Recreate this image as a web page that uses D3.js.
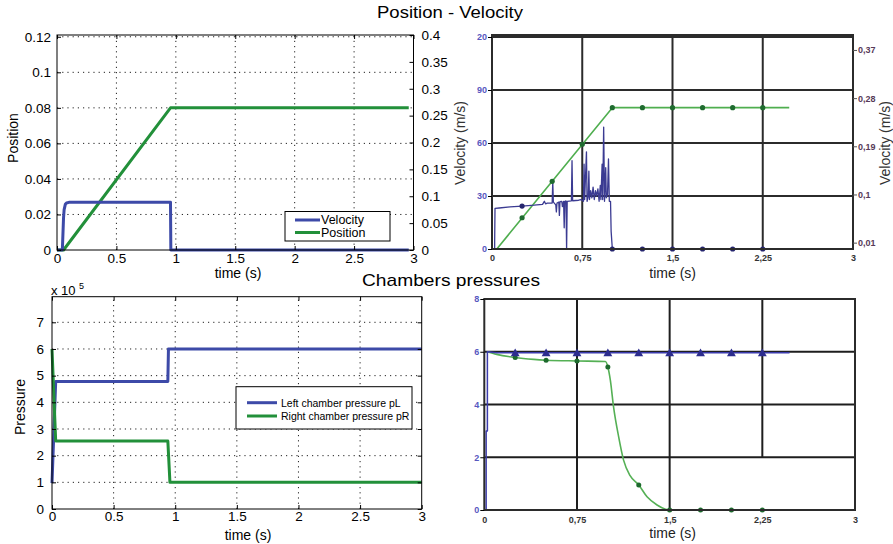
<!DOCTYPE html>
<html><head><meta charset="utf-8">
<script src="https://cdn.jsdelivr.net/npm/d3@7"></script>
<style>
body{margin:0;background:#fff;}
svg{display:block;font-family:"Liberation Sans",Arial,Helvetica,sans-serif;}
</style></head><body>
<svg id="chart" width="893" height="544"></svg>
<script>
// ---------- Simulated position / velocity (top left) ----------
const simVelTime = [0, 0.045, 0.05, 0.055, 0.06, 0.07, 0.08, 0.1, 0.955, 0.958, 2.96];
const simVelocity = [0, 0, 0.03, 0.06, 0.075, 0.085, 0.0875, 0.0887, 0.0887, 0, 0];   // m/s (right axis)
const simPosTime = [0, 0.055, 0.955, 2.96];
const simPosition = [0, 0, 0.08, 0.08];                                             // m (left axis)
const simTimeTicks = [0, 0.5, 1, 1.5, 2, 2.5, 3];
const simPosTicks = [0, 0.02, 0.04, 0.06, 0.08, 0.1, 0.12];
const simVelTicks = [0, 0.05, 0.1, 0.15, 0.2, 0.25, 0.3, 0.35, 0.4];

// ---------- Measured position / velocity (top right) ----------
const expVelTime = [0, 0.022, 0.022, 0.025, 0.06, 0.15, 0.25, 0.35, 0.42, 0.435,
  0.445, 0.46, 0.5, 0.505, 0.51, 0.53, 0.535, 0.54, 0.555, 0.56,
  0.565, 0.58, 0.585, 0.595, 0.60, 0.605, 0.615, 0.62, 0.625, 0.66,
  0.665, 0.67, 0.72, 0.74, 0.76, 0.765, 0.77, 0.785, 0.79, 0.80,
  0.805, 0.81, 0.82, 0.83, 0.84, 0.85, 0.86, 0.87, 0.88, 0.89,
  0.90, 0.905, 0.915, 0.92, 0.928, 0.935, 0.945, 0.95, 0.96, 0.968,
  0.975, 0.985, 0.99, 1.0, 2.47];
const expVelocity = [0, 0, 4, 23, 23.2, 23.8, 24.3, 24.8, 25.3, 27,
  25.6, 26, 26, 38, 26.5, 25, 21, 26, 26.5, 19,
  26.8, 27, 24, 27, 12, 27, 27.2, 0, 27, 27.3,
  50, 27.3, 27.6, 28, 27, 48, 28, 55, 27, 30,
  44, 28, 33, 29, 35, 28, 33, 30, 34, 27,
  36, 28, 48, 28, 69, 27, 46, 29, 31, 51,
  27, 27, 10, 0, 0];
const expVelMarkTime = [0.25, 1.0, 1.25, 1.5, 1.75, 2.0, 2.25];
const expVelMarks = [24.3, 0, 0, 0, 0, 0, 0];
const expPosTime = [0.04, 1.0, 2.47];
const expPosition = [0, 80, 80];
const expPosMarkTime = [0.25, 0.5, 0.75, 1.0, 1.25, 1.5, 1.75, 2.0, 2.25];
const expPosMarks = [17.7, 38.3, 59.3, 80, 80, 80, 80, 80, 80];
const expTimeTicks = [0, 0.75, 1.5, 2.25, 3];
const expTimeLabels = ["0", "0,75", "1,5", "2,25", "3"];
const expLeftTicks = [0, 30, 60, 90, 120];
const expLeftLabels = ["0", "30", "60", "90", "20"];
const expRightTicks = [0.01, 0.1, 0.19, 0.28, 0.37];
const expRightLabels = ["0,01", "0,1", "0,19", "0,28", "0,37"];

// ---------- Simulated chamber pressures (bottom left) ----------
const pLTime = [0, 0.03, 0.94, 0.945, 3];
const pL = [0.97e5, 4.78e5, 4.78e5, 6.0e5, 6.0e5];
const pRTime = [0, 0.03, 0.94, 0.957, 3];
const pR = [6.0e5, 2.55e5, 2.55e5, 1.0e5, 1.0e5];
const pressTicks = [0, 1e5, 2e5, 3e5, 4e5, 5e5, 6e5, 7e5];

// ---------- Measured chamber pressures (bottom right, bar) ----------
const expPLTime = [0.015, 0.015, 0.025, 0.025, 0.1, 2.47];
const expPL = [0, 3.0, 3.0, 6.0, 5.96, 5.96];
const expPLMarkTime = [0.25, 0.5, 0.75, 1.0, 1.25, 1.5, 1.75, 2.0, 2.25];
const expPLMarks = [5.93, 5.93, 5.93, 5.93, 5.93, 5.93, 5.93, 5.93, 5.93];
const expPRTime = [0.02, 0.1, 0.25, 0.4, 0.5, 0.75, 0.98, 1.0, 1.02, 1.046, 1.087, 1.127, 1.18, 1.25, 1.317, 1.398, 1.466, 1.5, 2.47];
const expPR = [6.0, 5.9, 5.78, 5.71, 5.68, 5.65, 5.63, 5.42, 4.92, 3.91, 2.78, 1.89, 1.3, 0.95, 0.5, 0.19, 0.03, 0, 0];
const expPRMarkTime = [0.25, 0.5, 0.75, 1.0, 1.25, 1.5, 1.75, 2.0, 2.25];
const expPRMarks = [5.78, 5.68, 5.65, 5.42, 0.95, 0, 0, 0, 0];
const barTicks = [0, 2, 4, 6, 8];

// ---------- Shared styling ----------
const BLUE = "#3d4aa8", GREEN = "#22903a";
const svg = d3.select("#chart");
svg.append("rect").attr("width", 893).attr("height", 544).attr("fill", "#fff");

function path(g, xs, ys, sx, sy, color, width, curve) {
  const ln = d3.line().x((d, i) => sx(xs[i])).y((d, i) => sy(ys[i])).curve(curve || d3.curveLinear);
  g.append("path").attr("d", ln(xs)).attr("fill", "none").attr("stroke", color)
    .attr("stroke-width", width).attr("stroke-linejoin", "round");
}
function styleAxis(ax, size, color, weight) {
  ax.selectAll("path.domain").remove();
  ax.selectAll("line").attr("stroke", "#000");
  ax.selectAll("text").attr("font-size", size).attr("fill", color || "#000")
    .attr("font-weight", weight || "normal");
}
function txt(x, y, s, size, opts = {}) {
  const t = svg.append("text").attr("x", x).attr("y", y).text(s).attr("font-size", size)
    .attr("fill", opts.fill || "#000").attr("text-anchor", opts.anchor || "middle")
    .attr("dominant-baseline", "central");
  if (opts.rotate) t.attr("transform", `rotate(-90,${x},${y})`);
  if (opts.weight) t.attr("font-weight", opts.weight);
  if (opts.len) t.attr("textLength", opts.len).attr("lengthAdjust", "spacingAndGlyphs");
  return t;
}
const numFmt = d => d === 0 ? "0" : String(+d.toFixed(2));

// ================= Panel A: simulated position / velocity =================
{
  const A = { l: 57, r: 413.5, t: 35, b: 250 };
  const x = d3.scaleLinear().domain([0, 3]).range([A.l, A.r]);
  const yL = d3.scaleLinear().domain([0, 0.121]).range([A.b, A.t]);
  const yR = d3.scaleLinear().domain([0, 0.4]).range([A.b, A.t]);
  const g = svg.append("g");
  const grid = g.append("g").attr("stroke", "#222").attr("stroke-width", 1).attr("stroke-dasharray", "1.2,4");
  simTimeTicks.slice(1, -1).forEach(v => grid.append("line").attr("x1", x(v)).attr("x2", x(v)).attr("y1", A.b).attr("y2", A.t));
  simPosTicks.slice(1).forEach(v => grid.append("line").attr("x1", A.l).attr("x2", A.r).attr("y1", yL(v)).attr("y2", yL(v)));

  path(g, simPosTime, simPosition, x, yL, GREEN, 3);
  path(g, simVelTime, simVelocity, x, yR, BLUE, 3);

  g.append("rect").attr("x", A.l).attr("y", A.t).attr("width", A.r - A.l).attr("height", A.b - A.t)
    .attr("fill", "none").attr("stroke", "#000").attr("stroke-width", 1);
  const ab = g.append("g").attr("transform", `translate(0,${A.b})`)
    .call(d3.axisBottom(x).tickValues(simTimeTicks).tickFormat(numFmt).tickSizeInner(-4).tickSizeOuter(0).tickPadding(3));
  styleAxis(ab, 13.5);
  const at = g.append("g").attr("transform", `translate(0,${A.t})`)
    .call(d3.axisTop(x).tickValues(simTimeTicks).tickFormat("").tickSizeInner(-4).tickSizeOuter(0));
  styleAxis(at, 14);
  const al = g.append("g").attr("transform", `translate(${A.l},0)`)
    .call(d3.axisLeft(yL).tickValues(simPosTicks).tickFormat(numFmt).tickSizeInner(-4).tickSizeOuter(0).tickPadding(6));
  styleAxis(al, 13.5);
  const ar = g.append("g").attr("transform", `translate(${A.r},0)`)
    .call(d3.axisRight(yR).tickValues(simVelTicks).tickFormat(numFmt).tickSizeInner(-4).tickSizeOuter(0).tickPadding(8));
  styleAxis(ar, 13.5);

  // legend
  const lg = g.append("g");
  lg.append("rect").attr("x", 285).attr("y", 211.5).attr("width", 105).attr("height", 29.5)
    .attr("fill", "#fff").attr("stroke", "#000");
  [["Velocity", BLUE, 220], ["Position", GREEN, 232.5]].forEach(([name, c, yy]) => {
    lg.append("line").attr("x1", 295).attr("x2", 320).attr("y1", yy).attr("y2", yy).attr("stroke", c).attr("stroke-width", 3);
    lg.append("text").attr("x", 321).attr("y", yy).attr("dominant-baseline", "central").attr("font-size", 12.5).text(name);
  });
  txt(13, 138, "Position", 14, { rotate: true });
  txt(238, 273, "time (s)", 14);
}

// ================= Panel B: measured position / velocity =================
{
  const B = { l: 492, r: 853, t: 35, b: 249 };
  const x = d3.scaleLinear().domain([0, 3]).range([B.l, B.r]);
  const yL = d3.scaleLinear().domain([0, 120]).range([B.b, 37]);
  const yR = d3.scaleLinear().domain([0, 0.4]).range([248, 33.9]);
  const g = svg.append("g");
  const grid = g.append("g").attr("stroke", "#2b2b2b").attr("stroke-width", 2);
  expLeftTicks.slice(1).forEach(v => grid.append("line").attr("x1", B.l).attr("x2", B.r).attr("y1", yL(v)).attr("y2", yL(v)));
  expTimeTicks.slice(1, -1).forEach(v => grid.append("line").attr("x1", x(v)).attr("x2", x(v)).attr("y1", B.b).attr("y2", B.t));

  path(g, expPosTime, expPosition, x, yL, "#4fae4f", 1.6);
  path(g, expVelTime, expVelocity, x, yL, "#3b3b92", 1.3);
  g.selectAll("circle.pm").data(expPosMarkTime).join("circle").attr("class", "pm")
    .attr("cx", d => x(d)).attr("cy", (d, i) => yL(expPosMarks[i])).attr("r", 2.6).attr("fill", "#1f6b2f");
  g.selectAll("circle.vm").data(expVelMarkTime).join("circle").attr("class", "vm")
    .attr("cx", d => x(d)).attr("cy", (d, i) => yL(expVelMarks[i])).attr("r", 2.6).attr("fill", "#25256e");

  g.append("rect").attr("x", B.l).attr("y", B.t).attr("width", B.r - B.l).attr("height", B.b - B.t)
    .attr("fill", "none").attr("stroke", "#2b2b2b").attr("stroke-width", 2);
  const al = g.append("g").attr("transform", `translate(${B.l},0)`)
    .call(d3.axisLeft(yL).tickValues(expLeftTicks).tickFormat((d, i) => expLeftLabels[i]).tickSizeInner(4).tickSizeOuter(0).tickPadding(1));
  styleAxis(al, 9, "#5858c0", "bold");
  const ar = g.append("g").attr("transform", `translate(${B.r},0)`)
    .call(d3.axisRight(yR).tickValues(expRightTicks).tickFormat((d, i) => expRightLabels[i]).tickSizeInner(4).tickSizeOuter(0).tickPadding(1));
  styleAxis(ar, 9, "#573a58", "bold");
  ar.selectAll("line").attr("stroke", "#555");
  const ab = g.append("g").attr("transform", `translate(0,${B.b})`)
    .call(d3.axisBottom(x).tickValues(expTimeTicks).tickFormat((d, i) => expTimeLabels[i]).tickSizeInner(0).tickSizeOuter(0).tickPadding(6));
  styleAxis(ab, 9, "#333", "bold");
  txt(460, 143, "Velocity (m/s)", 14, { rotate: true, fill: "#333" });
  txt(885, 143, "Velocity (m/s)", 14, { rotate: true, fill: "#333" });
  txt(672.7, 273, "time (s)", 14, { fill: "#222" });
}

// ================= Panel C: simulated chamber pressures =================
{
  const C = { l: 52, r: 421.7, t: 296.7, b: 509 };
  const x = d3.scaleLinear().domain([0, 3]).range([C.l, C.r]);
  const y = d3.scaleLinear().domain([0, 7.96e5]).range([C.b, C.t]);
  const g = svg.append("g");
  const grid = g.append("g").attr("stroke", "#222").attr("stroke-width", 1).attr("stroke-dasharray", "1.2,4");
  simTimeTicks.slice(1, -1).forEach(v => grid.append("line").attr("x1", x(v)).attr("x2", x(v)).attr("y1", C.b).attr("y2", C.t));
  pressTicks.slice(1).forEach(v => grid.append("line").attr("x1", C.l).attr("x2", C.r).attr("y1", y(v)).attr("y2", y(v)));

  path(g, pLTime, pL, x, y, BLUE, 3);
  path(g, pRTime, pR, x, y, GREEN, 3);

  g.append("rect").attr("x", C.l).attr("y", C.t).attr("width", C.r - C.l).attr("height", C.b - C.t)
    .attr("fill", "none").attr("stroke", "#000").attr("stroke-width", 1);
  const ab = g.append("g").attr("transform", `translate(0,${C.b})`)
    .call(d3.axisBottom(x).tickValues(simTimeTicks).tickFormat(numFmt).tickSizeInner(-4).tickSizeOuter(0).tickPadding(2));
  styleAxis(ab, 13.5);
  const al = g.append("g").attr("transform", `translate(${C.l},0)`)
    .call(d3.axisLeft(y).tickValues(pressTicks).tickFormat(d => String(d / 1e5)).tickSizeInner(-4).tickSizeOuter(0).tickPadding(8));
  styleAxis(al, 13.5);
  const ar = g.append("g").attr("transform", `translate(${C.r},0)`)
    .call(d3.axisRight(y).tickValues(pressTicks).tickFormat("").tickSizeInner(-4).tickSizeOuter(0));
  styleAxis(ar, 14);
  const at = g.append("g").attr("transform", `translate(0,${C.t})`)
    .call(d3.axisTop(x).tickValues(simTimeTicks).tickFormat("").tickSizeInner(-4).tickSizeOuter(0));
  styleAxis(at, 14);

  const lg = g.append("g");
  lg.append("rect").attr("x", 236).attr("y", 386.7).attr("width", 176).attr("height", 42.3)
    .attr("fill", "#fff").attr("stroke", "#000");
  [["Left chamber pressure pL", BLUE, 402.7], ["Right chamber pressure pR", GREEN, 416]].forEach(([name, c, yy]) => {
    lg.append("line").attr("x1", 247).attr("x2", 277).attr("y1", yy).attr("y2", yy).attr("stroke", c).attr("stroke-width", 3);
    lg.append("text").attr("x", 281).attr("y", yy).attr("dominant-baseline", "central").attr("font-size", 10.5).text(name);
  });
  txt(51, 290.5, "x 10", 13, { anchor: "start" });
  txt(79, 286, "5", 9, { anchor: "start" });
  txt(20, 407, "Pressure", 14, { rotate: true });
  txt(248, 534.5, "time (s)", 14);
}

// ================= Panel D: measured chamber pressures =================
{
  const D = { l: 484.3, r: 855, t: 299, b: 510 };
  const x = d3.scaleLinear().domain([0, 3]).range([D.l, D.r]);
  const y = d3.scaleLinear().domain([0, 8]).range([D.b, D.t]);
  const g = svg.append("g");
  const grid = g.append("g").attr("stroke", "#1e1e1e").attr("stroke-width", 2);
  barTicks.slice(1, -1).forEach(v => grid.append("line").attr("x1", D.l).attr("x2", D.r).attr("y1", y(v)).attr("y2", y(v)));
  [0.75, 1.5].forEach(v => grid.append("line").attr("x1", x(v)).attr("x2", x(v)).attr("y1", D.b).attr("y2", D.t));
  grid.append("line").attr("x1", x(2.25)).attr("x2", x(2.25)).attr("y1", y(2)).attr("y2", D.t);

  path(g, expPRTime, expPR, x, y, "#55b055", 1.6, d3.curveMonotoneX);
  path(g, expPLTime, expPL, x, y, "#3c3cae", 1.5);
  g.selectAll("circle.rm").data(expPRMarkTime).join("circle").attr("class", "rm")
    .attr("cx", d => x(d)).attr("cy", (d, i) => y(expPRMarks[i])).attr("r", 2.5).attr("fill", "#1d6a2d");
  const tri = d3.symbol().type(d3.symbolTriangle).size(34);
  g.selectAll("path.lm").data(expPLMarkTime).join("path").attr("class", "lm")
    .attr("d", tri).attr("transform", (d, i) => `translate(${x(d)},${y(expPLMarks[i])})`).attr("fill", "#2c2c8e");

  g.append("rect").attr("x", D.l).attr("y", D.t).attr("width", D.r - D.l).attr("height", D.b - D.t)
    .attr("fill", "none").attr("stroke", "#2b2b2b").attr("stroke-width", 2);
  const al = g.append("g").attr("transform", `translate(${D.l},0)`)
    .call(d3.axisLeft(y).tickValues(barTicks).tickFormat(d3.format("d")).tickSizeInner(4).tickSizeOuter(0).tickPadding(1));
  styleAxis(al, 9, "#5858c0", "bold");
  const ab = g.append("g").attr("transform", `translate(0,${D.b})`)
    .call(d3.axisBottom(x).tickValues(expTimeTicks).tickFormat((d, i) => expTimeLabels[i]).tickSizeInner(0).tickSizeOuter(0).tickPadding(7));
  styleAxis(ab, 9, "#333", "bold");
  txt(672.7, 533, "time (s)", 14, { fill: "#222" });
}

// ---------- Titles ----------
txt(450, 12, "Position - Velocity", 16, { len: 146 });
txt(451, 280, "Chambers pressures", 17, { len: 178 });
</script>
</body></html>
